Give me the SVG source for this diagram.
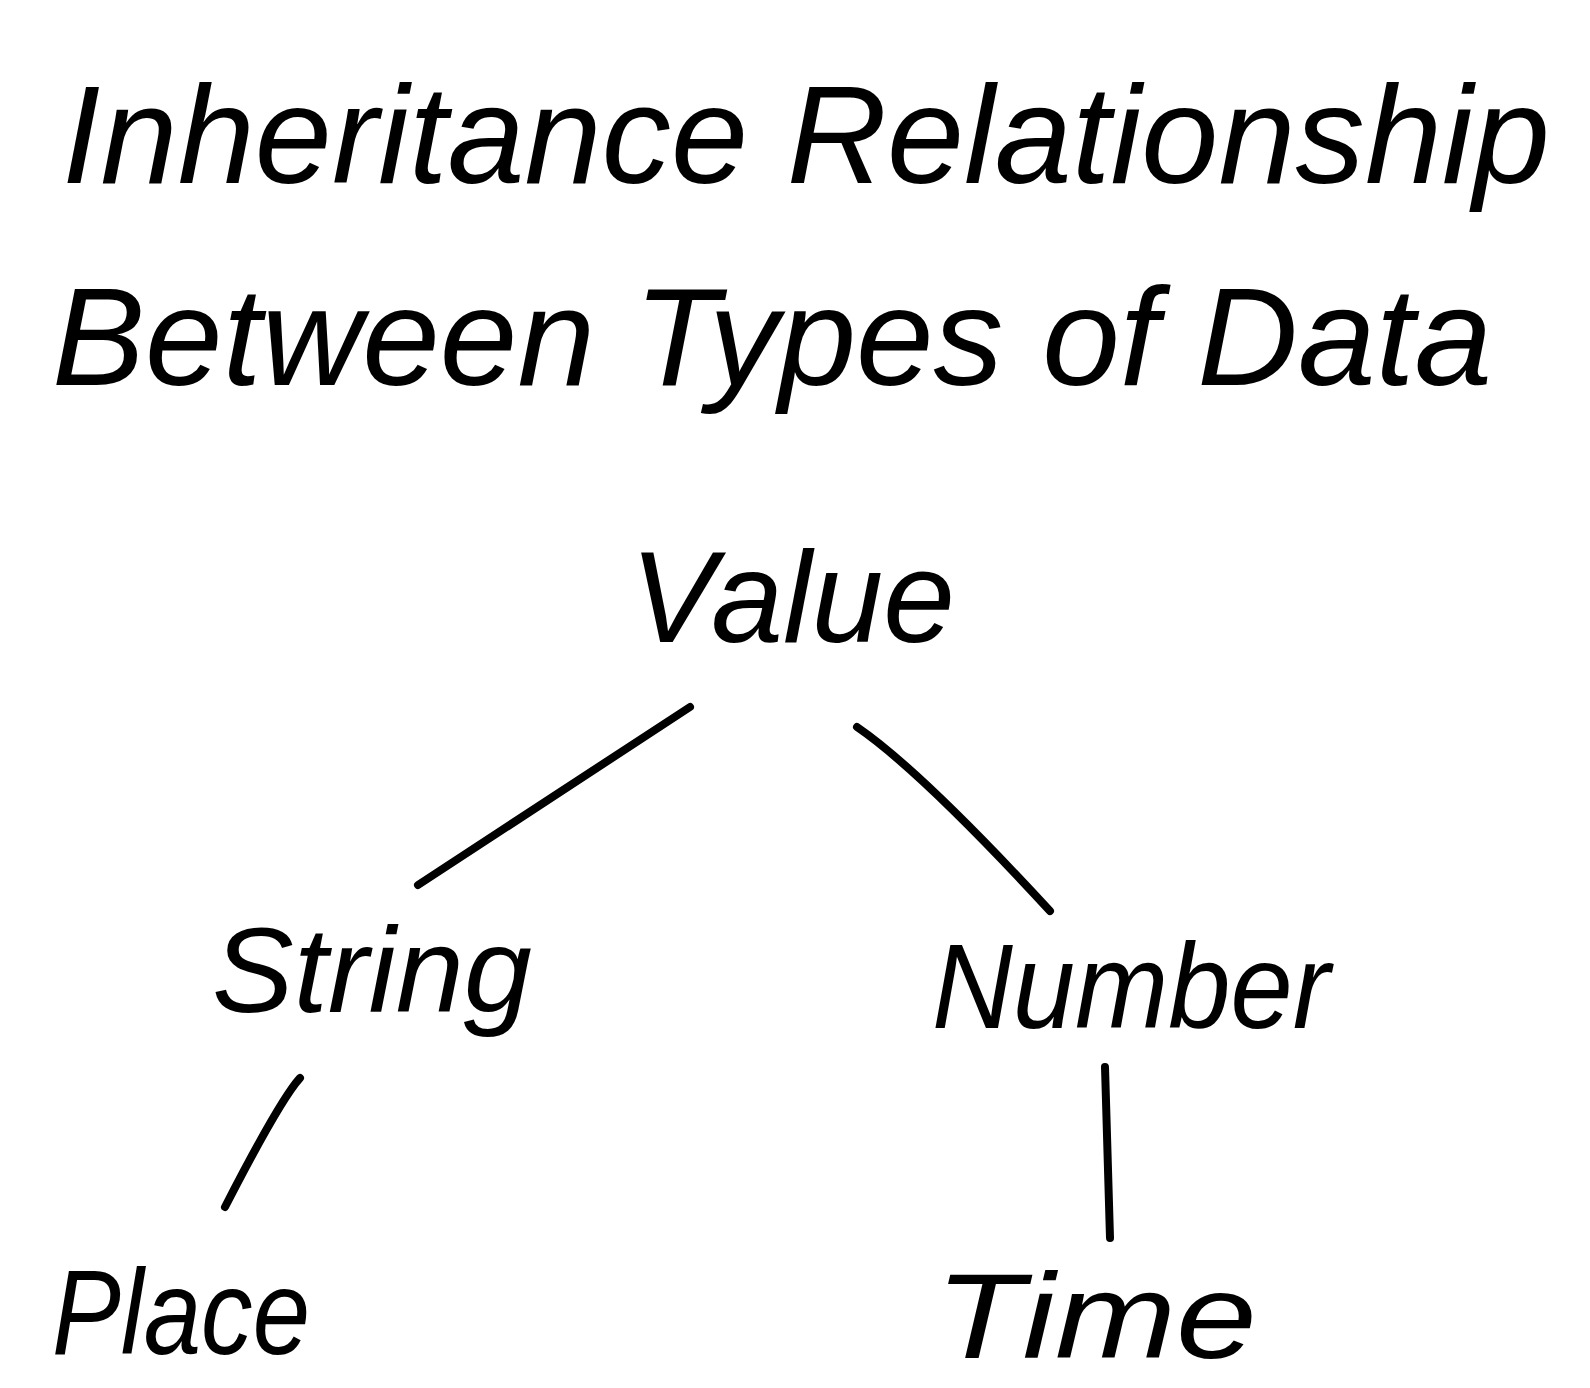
<svg xmlns="http://www.w3.org/2000/svg" width="1590" height="1388" viewBox="0 0 1590 1388">
<style>
.t{font-family:"Liberation Sans","DejaVu Sans",sans-serif;fill:#000;font-style:italic}
.c{stroke:#000;stroke-width:8;stroke-linecap:round;fill:none}
</style>
<rect width="1590" height="1388" fill="#fff"/>
<g id="title">
<text class="t" x="62" y="183" font-size="140" textLength="1488" lengthAdjust="spacingAndGlyphs">Inheritance Relationship</text>
<text class="t" x="52" y="385" font-size="140" textLength="1440" lengthAdjust="spacingAndGlyphs">Between Types of Data</text>
</g>
<g id="value"><text class="t" x="630" y="642" font-size="130" textLength="325" lengthAdjust="spacingAndGlyphs">Value</text></g>
<g id="string"><text class="t" x="212" y="1012" font-size="120" textLength="320" lengthAdjust="spacingAndGlyphs">String</text></g>
<g id="number"><text class="t" x="932" y="1028" font-size="120" textLength="398" lengthAdjust="spacingAndGlyphs">Number</text></g>
<g id="place"><text class="t" x="52" y="1354" font-size="120" textLength="258" lengthAdjust="spacingAndGlyphs">Place</text></g>
<g id="time"><text class="t" x="935" y="1358" font-size="120" textLength="322" lengthAdjust="spacingAndGlyphs">Time</text></g>
<g id="connectors">
<path class="c" d="M690 707 L418 885"/>
<path class="c" d="M857 727 Q920 770 1050 911"/>
<path class="c" d="M300 1078 Q280 1100 225 1207"/>
<path class="c" d="M1105 1067 L1110 1238"/>
</g>
</svg>
